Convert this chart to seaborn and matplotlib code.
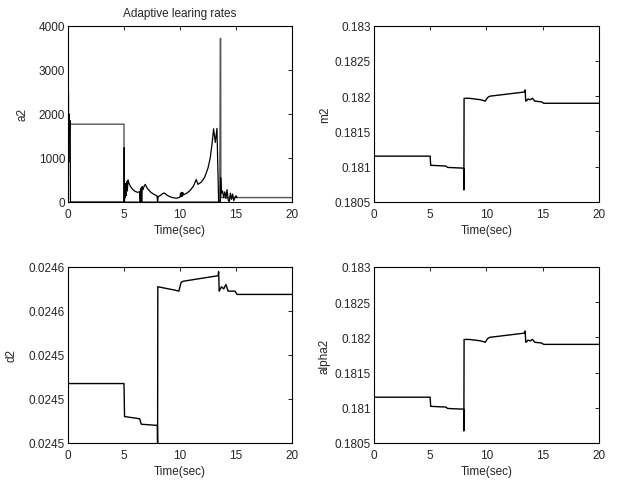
import numpy as np
import pandas as pd
import seaborn as sns
import matplotlib.pyplot as plt

# time axis ticks
time_ticks = [0, 5, 10, 15, 20]

# a2: switching level (grey) and adaptive curve (black)
a2_step_t = [0, 0.15, 5.0, 5.0, 13.55, 13.6, 13.63, 13.65, 20]
a2_step_v = [1765, 1765, 1765, 0, 0, 3710, 3710, 100, 100]

a2_t = [0, 0.02, 0.04, 0.06, 0.08, 0.10, 0.12, 0.14, 0.17, 0.2, 0.22,
        5.0, 5.02, 5.04, 5.08, 5.12, 5.16, 5.2, 5.25, 5.3, 5.36, 5.45,
        5.6, 5.8, 6.0, 6.2, 6.4, 6.45, 6.48, 6.52, 6.55, 6.58, 6.62, 6.7,
        6.8, 6.9, 7.1, 7.4, 7.7, 7.95, 8.0, 8.05, 8.2, 8.4, 8.6, 8.8, 9.1,
        9.4, 9.7, 10.0, 10.05, 10.1, 10.15, 10.2, 10.25, 10.3, 10.6, 10.9,
        11.2, 11.45, 11.6, 11.9, 12.2, 12.5, 12.7, 12.85, 13.0, 13.15, 13.3,
        13.45, 13.6, 13.63, 13.7, 13.8, 13.9, 14.0, 14.1, 14.2, 14.3, 14.4,
        14.5, 14.6, 14.7, 14.8, 14.9, 15.0, 15.1]
a2_v = [0, 600, 2500, 900, 2000, 1500, 1900, 1650, 1850, 1700, 0,
        0, 1235, 0, 350, 100, 420, 150, 460, 250, 500, 420,
        340, 280, 240, 220, 230, 0, 300, 0, 320, 0, 350, 280,
        360, 400, 300, 220, 170, 140, 0, 120, 140, 180, 205, 160, 120,
        95, 85, 110, 200, 120, 220, 130, 210, 160, 200, 260,
        360, 510, 400, 450, 560, 770, 1000, 1300, 1660, 1350, 1670,
        0, 0, 550, 200, 250, 100, 230, 80, 280, 50, 0,
        200, 60, 180, 30, 100, 140, 100]

# m2 / alpha2 / d2 parameter traces
param_t = [0, 5.0, 5.05, 6.4, 6.55, 7.95, 7.98, 8.0, 8.02, 8.5, 9.5, 9.9,
           10.1, 10.3, 13.4, 13.45, 13.5, 13.6, 13.7, 13.9, 14.1, 14.3,
           14.9, 15.1, 20]
m2_v = [0.18115, 0.18115, 0.18102, 0.18101, 0.18099, 0.18098, 0.18098,
        0.18067, 0.18197, 0.18197, 0.18195, 0.18193, 0.18198, 0.18200,
        0.18206, 0.18209, 0.18193, 0.18194, 0.18196, 0.18195, 0.18197,
        0.18193, 0.18192, 0.18190, 0.18190]
alpha2_v = [0.18115, 0.18115, 0.18102, 0.18101, 0.18099, 0.18098, 0.18098,
            0.18067, 0.18197, 0.18197, 0.18195, 0.18193, 0.18198, 0.18200,
            0.18206, 0.18209, 0.18193, 0.18194, 0.18196, 0.18195, 0.18197,
            0.18193, 0.18192, 0.18190, 0.18190]
d2_v = [0.024527, 0.024527, 0.024512, 0.024511, 0.0245085, 0.024508,
        0.024508, 0.024500, 0.024571, 0.0245705, 0.0245695, 0.024569,
        0.024573, 0.0245735, 0.024576, 0.0245778, 0.024569, 0.024570,
        0.024571, 0.024570, 0.024572, 0.024569, 0.024569, 0.0245675,
        0.0245675]

a2_ticks = [0, 1000, 2000, 3000, 4000]
m2_ticks = [0.1805, 0.181, 0.1815, 0.182, 0.1825, 0.183]
m2_labels = ["0.1805", "0.181", "0.1815", "0.182", "0.1825", "0.183"]
d2_ticks = [0.02450, 0.02452, 0.02454, 0.02456, 0.02458]
d2_labels = ["0.0245", "0.0245", "0.0245", "0.0246", "0.0246"]

sns.set_style("white")
plt.rcParams['font.family'] = ['Liberation Sans', 'DejaVu Sans']

fig = plt.figure(figsize=(6.18, 4.81), dpi=100)
ax_a2 = fig.add_axes([0.110, 0.578, 0.3625, 0.3665])
ax_m2 = fig.add_axes([0.605, 0.578, 0.364, 0.3665])
ax_d2 = fig.add_axes([0.110, 0.077, 0.3625, 0.366])
ax_al = fig.add_axes([0.605, 0.077, 0.364, 0.366])


def style_axes(ax, ylabel, yticks, ylabels=None, ypad=3):
    ax.set_xlim(0, 20)
    ax.set_xticks(time_ticks)
    ax.set_ylim(yticks[0], yticks[-1])
    ax.set_yticks(yticks)
    if ylabels is not None:
        ax.set_yticklabels(ylabels)
    ax.set_xlabel("Time(sec)", fontsize=8.5, labelpad=3)
    ax.set_ylabel(ylabel, fontsize=8.5, labelpad=ypad)
    ax.tick_params(direction="in", length=3, width=0.6, labelsize=8.5,
                   top=True, right=True, color="black")
    ax.tick_params(axis="x", pad=4)
    ax.tick_params(axis="y", pad=2)
    for sp in ax.spines.values():
        sp.set_visible(True)
        sp.set_color("black")
        sp.set_linewidth(0.8)


step_df = pd.DataFrame({"t": a2_step_t, "v": a2_step_v})
curve_df = pd.DataFrame({"t": a2_t, "v": a2_v})
sns.lineplot(data=step_df, x="t", y="v", ax=ax_a2, estimator=None, sort=False,
             color="#555555", linewidth=1.0)
sns.lineplot(data=curve_df, x="t", y="v", ax=ax_a2, estimator=None, sort=False,
             color="black", linewidth=0.9)
style_axes(ax_a2, "a2", a2_ticks, ypad=7)
ax_a2.set_title("Adaptive learing rates", fontsize=8.5, pad=7)

for ax, vals, label, ticks, labels, pad in [
        (ax_m2, m2_v, "m2", m2_ticks, m2_labels, 3),
        (ax_d2, d2_v, "d2", d2_ticks, d2_labels, 8),
        (ax_al, alpha2_v, "alpha2", m2_ticks, m2_labels, 3)]:
    df = pd.DataFrame({"t": param_t, "v": vals})
    sns.lineplot(data=df, x="t", y="v", ax=ax, estimator=None, sort=False,
                 color="black", linewidth=1.0)
    style_axes(ax, label, ticks, labels, ypad=pad)

fig.savefig("out.png", dpi=100)
